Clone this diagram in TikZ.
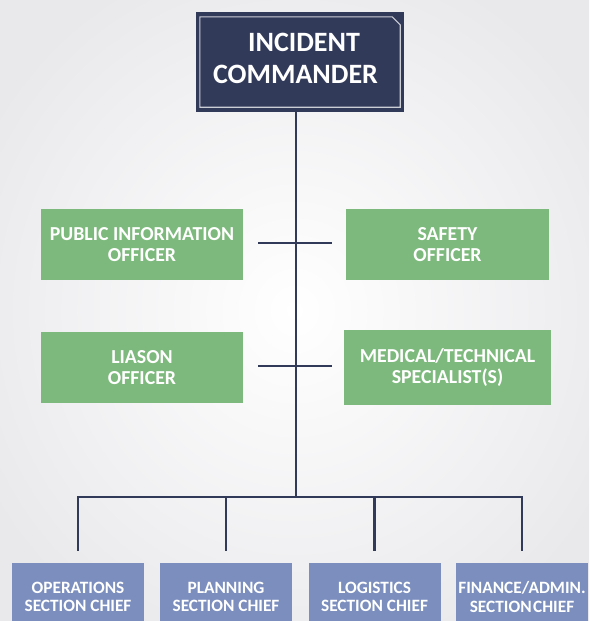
\documentclass[tikz,border=0pt]{standalone}
\usepackage{fontspec}
\setmainfont{Carlito}
\definecolor{navy}{HTML}{323A5A}
\definecolor{boxgreen}{HTML}{7DB97C}
\definecolor{boxblue}{HTML}{7B8EBE}
\definecolor{bgedge}{HTML}{E9E9EC}
\tikzset{
  cmdbox/.style={fill=navy, minimum width=208pt, minimum height=100pt, inner sep=0pt},
  cmdtext/.style={text=white, align=center, inner sep=0pt, font=\fontsize{28}{32}\selectfont\bfseries},
  greenbox/.style={fill=boxgreen, text=white, align=center, inner sep=0pt, minimum width=202pt, minimum height=71pt, font=\fontsize{19.8}{21}\selectfont\bfseries},
  bluebox/.style={fill=boxblue, text=white, align=center, inner sep=0pt, minimum width=132pt, minimum height=68pt, font=\fontsize{17.3}{18.5}\selectfont\bfseries},
  link/.style={draw=navy, line width=2.6pt}
}
\begin{document}
\begin{tikzpicture}[x=1pt,y=-1pt]
\useasboundingbox (0,0) rectangle (589,621);
\clip (0,0) rectangle (589,621);
\shade[inner color=white, outer color=bgedge] (-60,-60) rectangle (649,681);

% commander
\node[cmdbox] (ic) at (300,62) {};
\draw[draw=navy!25!white, line width=1.1pt]
  ([shift={(4,5)}]ic.north west) -- ([shift={(-12,5)}]ic.north east) --
  ([shift={(-4,13)}]ic.north east) -- ([shift={(-4,-5)}]ic.south east) --
  ([shift={(4,-5)}]ic.south west) -- cycle;
\node[cmdtext] (ict) at (300,58.5) {\hspace*{8pt}INCIDENT\\COMMANDER\hspace*{9pt}};

% staff
\node[greenbox] (pio) at (142,244.5) {PUBLIC INFORMATION\\OFFICER};
\node[greenbox, minimum width=203pt] (saf) at (447.5,244.5) {SAFETY\\OFFICER};
\node[greenbox] (lia) at (142,367.5) {LIASON\\OFFICER};
\node[greenbox, minimum width=207pt, minimum height=75pt] (med) at (447.5,367.5) {MEDICAL/TECHNICAL\\SPECIALIST(S)};

% sections
\node[bluebox] (ops) at (78,597) {OPERATIONS\\SECTION CHIEF};
\node[bluebox] (pln) at (226,597) {PLANNING\\SECTION CHIEF};
\node[bluebox] (lgs) at (374.5,597) {LOGISTICS\\SECTION CHIEF};
\node[bluebox] (fin) at (522,597) {FINANCE/ADMIN.\\SECTION\hspace{1.5pt}CHIEF};

% connectors
\coordinate (bus) at (296,497);
\draw[link] (bus |- ic.south) -- (bus);
\draw[link] ([xshift=15pt,yshift=1.5pt]pio.east) -- ([xshift=-14pt,yshift=1.5pt]saf.west);
\draw[link] ([xshift=15pt,yshift=1.5pt]lia.east) -- ([xshift=-12pt,yshift=1.5pt]med.west);
\draw[link, line cap=rect] (ops |- bus) -- (fin |- bus);
\draw[link] (ops |- bus) -- ([yshift=12pt]ops.north);
\draw[link] (pln |- bus) -- ([yshift=12pt]pln.north);
\draw[link] (lgs |- bus) -- ([yshift=12pt]lgs.north);
\draw[link] (fin |- bus) -- ([yshift=12pt]fin.north);
\end{tikzpicture}
\end{document}
